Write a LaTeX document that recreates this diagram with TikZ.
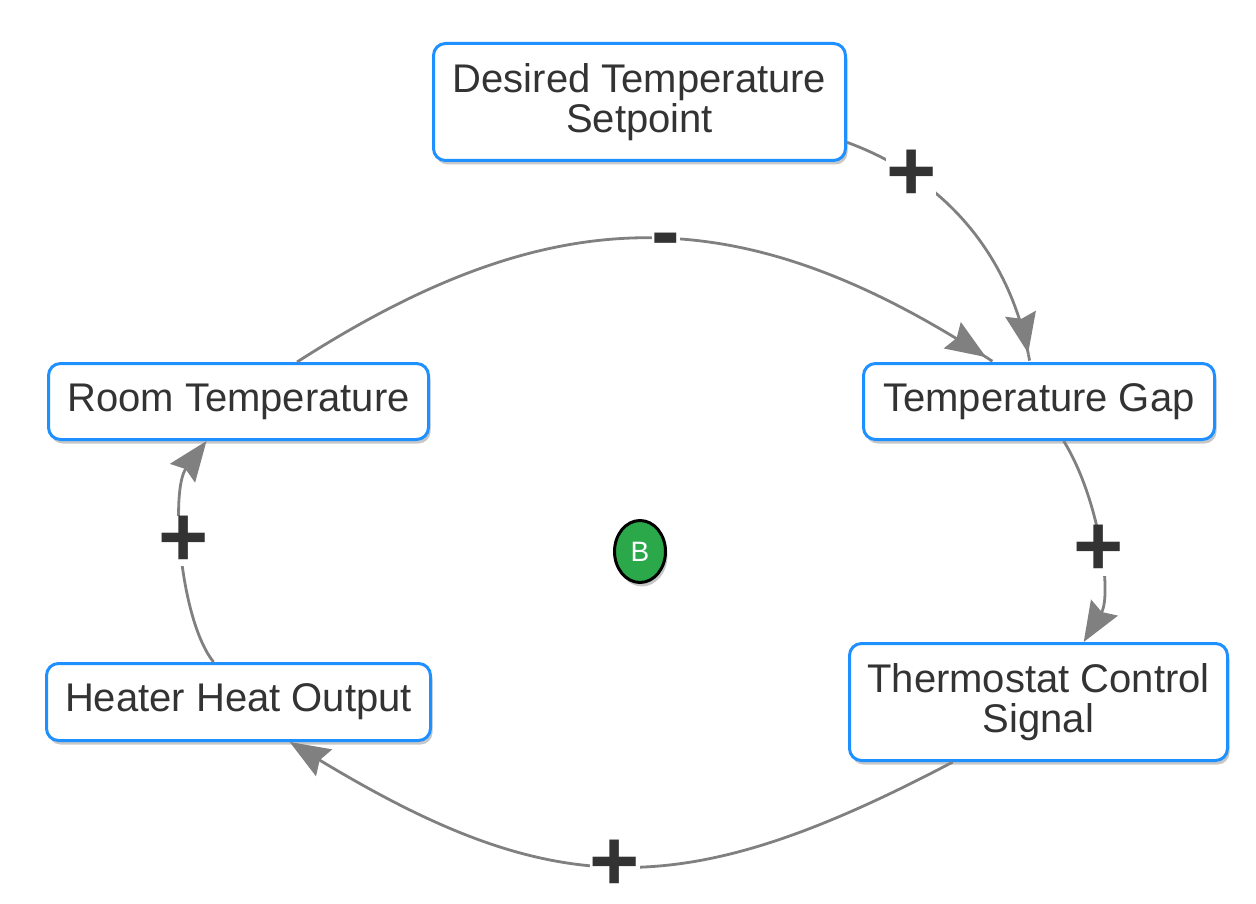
\documentclass[tikz,border=0pt]{standalone}
\usepackage{fontspec}
\setmainfont{Liberation Sans}
\usetikzlibrary{arrows.meta,shapes.geometric,shadows}
\definecolor{txt}{HTML}{333333}
\definecolor{bord}{HTML}{1E90FF}
\definecolor{edgegray}{HTML}{808080}
\definecolor{loopgreen}{HTML}{2BA84A}
\tikzset{
 box/.style={draw=bord, line width=3pt, rounded corners=12pt, fill=white, text=txt,
   font=\fontsize{40}{40}\selectfont, align=center, inner sep=0pt,
   drop shadow={opacity=0.22, fill=black, shadow xshift=2pt, shadow yshift=-4pt}},
 link/.style={draw=edgegray, line width=2.8pt, -{Stealth[length=40pt,width=31pt,inset=5pt]}},
 linkshort/.style={draw=edgegray, line width=2.8pt,
   -{Stealth[length=40pt,width=31pt,inset=5pt] Rectangle[length=9pt,width=2.8pt]}},
 sign/.style={fill=white, text=txt, inner sep=0pt, font=\fontsize{86}{86}\selectfont\bfseries},
}
\begin{document}
\begin{tikzpicture}[x=1pt,y=-1pt]
\useasboundingbox (0,0) rectangle (1256,904);
\node[box, minimum width=412pt, minimum height=117pt] (set) at (639.5,102) {Desired Temperature\\Setpoint};
\node[box, minimum width=380pt, minimum height=76pt] (room) at (238.5,401.5) {Room Temperature};
\node[box, minimum width=351pt, minimum height=76pt] (gap) at (1039,401.5) {Temperature Gap};
\node[box, minimum width=378pt, minimum height=117pt] (therm) at (1038.5,702) {Thermostat Control\\Signal};
\node[box, minimum width=384pt, minimum height=77pt] (heater) at (238.5,702) {Heater Heat Output};
\node[ellipse, draw=black, line width=3pt, fill=loopgreen, minimum width=51pt, minimum height=62pt,
  inner sep=0pt, text=white, font=\fontsize{28}{28}\selectfont,
  drop shadow={opacity=0.22, fill=black, shadow xshift=2pt, shadow yshift=-4pt}] (loop) at (640,551.5) {B};

\draw[linkshort] (set.-11) .. controls (950,180) and (1010,260) .. (gap.103) node[sign,pos=0.23] {+};
\draw[linkshort] (room.34) .. controls (554,197) and (739,197) .. (gap.139) node[sign,pos=0.53,yshift=-8pt] {-};
\draw[link] (gap.-58) .. controls (1100,500) and (1112,595) .. (therm.53) node[sign,pos=0.52] {+};
\draw[link] (therm.-145) .. controls (685,903) and (556,903) .. (heater.-38) node[sign,pos=0.51] {+};
\draw[link] (heater.122) .. controls (180,620) and (170,490) .. (room.-129) node[sign,pos=0.55] {+};
\end{tikzpicture}
\end{document}
